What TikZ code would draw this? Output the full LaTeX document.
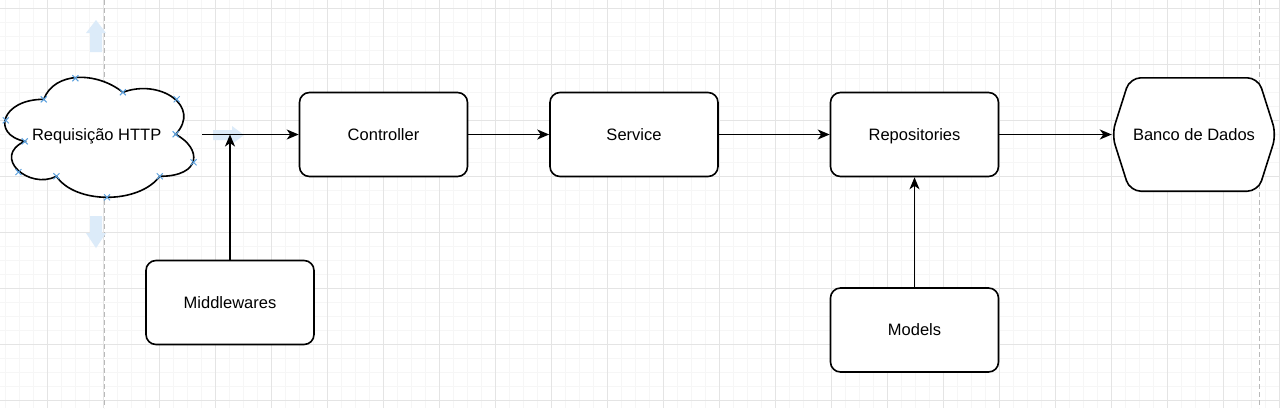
\documentclass[tikz,border=0pt]{standalone}
\usepackage{fontspec}
\setmainfont{Liberation Sans}
\usetikzlibrary{arrows.meta,calc}
\definecolor{gridminor}{RGB}{246,246,246}
\definecolor{gridmajor}{RGB}{228,228,228}
\definecolor{pageline}{RGB}{185,185,185}
\definecolor{hoverblue}{RGB}{220,235,249}
\definecolor{markblue}{RGB}{90,160,222}
\pgfdeclarelayer{gridlayer}
\pgfdeclarelayer{shapelayer}
\pgfsetlayers{gridlayer,shapelayer,main}
\begin{document}
\begin{tikzpicture}[x=1pt,y=-1pt,
  txt/.style={font=\fontsize{16.5}{20}\selectfont, text=black, text height=15.3pt, text depth=3.5pt},
  box/.style={txt, draw, line width=1.6pt, rounded corners=10pt, minimum width=168pt, minimum height=84pt, fill=white, inner sep=0pt},
  plain/.style={txt, inner sep=0pt},
  conn/.style={line width=1.6pt, -{Stealth[length=12pt,width=10pt,inset=3.5pt]}},
  outline/.style={line width=1.6pt, draw=black, fill=white},
  cloudmark/.pic={\draw[markblue,line width=1pt] (-3pt,-3pt) -- (3pt,3pt) (-3pt,3pt) -- (3pt,-3pt);}]
\useasboundingbox (0,0) rectangle (1280,408);

% ---- editor background ----
\begin{pgfonlayer}{gridlayer}
\fill[white] (0,0) rectangle (1280,408);
\foreach \x in {5,19,...,1279} \draw[gridminor, line width=1pt] (\x,0) -- (\x,408);
\foreach \y in {8,22,...,400} \draw[gridminor, line width=1pt] (0,\y) -- (1280,\y);
\foreach \x in {47,103,...,1279} \draw[gridmajor, line width=1pt] (\x,0) -- (\x,408);
\foreach \y in {8,64,...,400} \draw[gridmajor, line width=1pt] (0,\y) -- (1280,\y);
\draw[pageline, line width=1pt, dash pattern=on 5pt off 3pt] (104,0) -- (104,408);
\draw[pageline, line width=1pt, dash pattern=on 5pt off 3pt] (1259,0) -- (1259,408);
% hover arrows
\fill[hoverblue] (90,52) -- (90,33) -- (86,33) -- (96,20) -- (106,33) -- (102,33) -- (102,52) -- cycle;
\fill[hoverblue] (90,216) -- (90,233) -- (86,233) -- (96,248) -- (106,233) -- (102,233) -- (102,216) -- cycle;
\fill[hoverblue] (213,130) -- (232,130) -- (232,126) -- (244,135) -- (232,144) -- (232,140) -- (213,140) -- cycle;
\end{pgfonlayer}

% ---- nodes ----
\node[plain, minimum width=211pt, minimum height=140pt] (req) at (96.7,134.5) {Requisição HTTP};
\node[box] (ctrl) at (383.5,134.5) {Controller};
\node[box] (svc) at (634,134.5) {Service};
\node[box] (repo) at (914.5,134.5) {Repositories};
\node[plain, minimum width=164pt, minimum height=113pt] (db) at (1194,134.5) {Banco de Dados};
\node[box] (mw) at (230,302.5) {Middlewares};
\node[box] (models) at (914.5,330) {Models};

% ---- shapes drawn behind texts ----
\begin{pgfonlayer}{shapelayer}
\begin{scope}[shift={(req.north west)}, x=211pt, y=-140pt]
\draw[outline] (0.25,0.25) .. controls (0.05,0.25) and (0,0.5) .. (0.16,0.55)
  .. controls (0,0.66) and (0.18,0.9) .. (0.31,0.8)
  .. controls (0.4,1) and (0.7,1) .. (0.8,0.8)
  .. controls (1,0.8) and (1,0.6) .. (0.875,0.5)
  .. controls (1,0.3) and (0.8,0.1) .. (0.625,0.2)
  .. controls (0.5,0.05) and (0.3,0.05) .. cycle;
\foreach \p in {(0.25,0.25),(0.4,0.1),(0.16,0.55),(0.07,0.4),(0.31,0.8),(0.13,0.77),(0.8,0.8),(0.55,0.95),(0.875,0.5),(0.96,0.7),(0.625,0.2),(0.88,0.25)}
  \path \p pic{cloudmark};
\end{scope}
\draw[outline, rounded corners=11pt] (db.west) -- ([xshift=18pt]db.north west) -- ([xshift=-18pt]db.north east)
  -- (db.east) -- ([xshift=-18pt]db.south east) -- ([xshift=18pt]db.south west) -- cycle;
\end{pgfonlayer}

% ---- connectors ----
\coordinate (mwjoin) at (mw.north |- ctrl.west);
\draw[conn] (req.east) -- (ctrl.west);
\draw[conn] (mw.north) -- (mwjoin);
\draw[conn] (ctrl.east) -- (svc.west);
\draw[conn] (svc.east) -- (repo.west);
\draw[conn] (repo.east) -- (db.west);
\draw[conn] (models.north) -- (repo.south);
\end{tikzpicture}
\end{document}
